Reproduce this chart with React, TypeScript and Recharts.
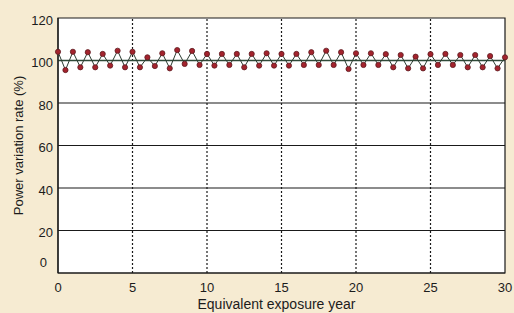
import React from "react";
import {
  LineChart,
  Line,
  XAxis,
  YAxis,
  ReferenceLine,
  ReferenceArea,
} from "recharts";

const years = [
  0, 0.5, 1, 1.5, 2, 2.5, 3, 3.5, 4, 4.5, 5, 5.5, 6, 6.5, 7, 7.5, 8, 8.5, 9, 9.5,
  10, 10.5, 11, 11.5, 12, 12.5, 13, 13.5, 14, 14.5, 15, 15.5, 16, 16.5, 17, 17.5,
  18, 18.5, 19, 19.5, 20, 20.5, 21, 21.5, 22, 22.5, 23, 23.5, 24, 24.5, 25, 25.5,
  26, 26.5, 27, 27.5, 28, 28.5, 29, 29.5, 30,
];

const powerRate = [
  104.1, 95.5, 104.1, 96.8, 103.9, 96.8, 103.1, 97.6, 104.6, 96.8, 104.1, 96.8,
  101.5, 97.4, 103.4, 96.3, 104.9, 98.4, 104.5, 97.9, 103.1, 97.6, 103.1, 97.9,
  103.1, 96.8, 103.1, 97.6, 103.4, 97.6, 103.1, 97.6, 103.1, 97.9, 103.9, 97.9,
  104.6, 97.9, 103.9, 96.0, 103.4, 97.9, 103.4, 97.9, 103.0, 96.8, 102.6, 96.3,
  101.8, 96.3, 103.0, 97.9, 103.1, 97.9, 102.6, 96.8, 102.6, 96.8, 102.1, 96.3,
  101.5,
];

const xTicks = [0, 5, 10, 15, 20, 25, 30];
const yTicks = [0, 20, 40, 60, 80, 100, 120];
const hGrid = [20, 40, 60, 80];
const vGrid = [5, 10, 15, 20, 25];

const xLabel = "Equivalent exposure year";
const yLabel = "Power variation rate (%)";

const data = years.map((y, i) => ({ year: y, rate: powerRate[i] }));

const FONT = "'Liberation Sans', Arial, Helvetica, sans-serif";
const TEXT = "#1c1c1c";

const XTick = (props: any) => {
  const { x, y, payload } = props;
  return (
    <text x={x} y={y} dy={19} textAnchor="middle" fontSize={13} fill={TEXT} fontFamily={FONT}>
      {payload.value}
    </text>
  );
};

const YTick = (props: any) => {
  const { x, y, payload } = props;
  const isZero = payload.value === 0;
  return (
    <text
      x={isZero ? x - 6 : x}
      y={y}
      dy={isZero ? -6 : 6.5}
      textAnchor="end"
      fontSize={13}
      fill={TEXT}
      fontFamily={FONT}
    >
      {payload.value}
    </text>
  );
};

const YLabel = (props: any) => {
  const vb = props.viewBox || { x: 0, y: 18, width: 58, height: 255 };
  const cx = 23;
  const cy = vb.y + vb.height / 2;
  return (
    <text
      x={cx}
      y={cy}
      transform={`rotate(-90, ${cx}, ${cy})`}
      textAnchor="middle"
      fontSize={13}
      fill={TEXT}
      fontFamily={FONT}
    >
      {yLabel}
    </text>
  );
};

const XLabel = (props: any) => {
  const vb = props.viewBox || { x: 58, y: 273, width: 447, height: 40 };
  return (
    <text
      x={vb.x + vb.width / 2 - 5}
      y={309}
      textAnchor="middle"
      fontSize={14}
      fill={TEXT}
      fontFamily={FONT}
    >
      {xLabel}
    </text>
  );
};

export default function App() {
  return (
    <div
      style={{
        position: "fixed",
        left: 0,
        top: 0,
        width: 514,
        height: 313,
        background: "#f6ebd2",
      }}
    >
      <LineChart
        width={514}
        height={313}
        data={data}
        margin={{ top: 18, right: 9, left: 0, bottom: 0 }}
      >
        <ReferenceArea
          x1={0}
          x2={30}
          y1={0}
          y2={120}
          fill="#ffffff"
          fillOpacity={1}
          stroke="#1a1a1a"
          strokeWidth={1.2}
          ifOverflow="visible"
        />
        {hGrid.map((v) => (
          <ReferenceLine key={"h" + v} y={v} stroke="#1a1a1a" strokeWidth={1.1} />
        ))}
        {vGrid.map((v) => (
          <ReferenceLine
            key={"v" + v}
            x={v}
            stroke="#1a1a1a"
            strokeWidth={1.2}
            strokeDasharray="2 2"
          />
        ))}
        <ReferenceLine y={100} stroke="#2f4a38" strokeWidth={1.6} />
        <XAxis
          dataKey="year"
          type="number"
          domain={[0, 30]}
          ticks={xTicks}
          tick={<XTick />}
          tickLine={false}
          tickSize={0}
          tickMargin={0}
          axisLine={{ stroke: "#1a1a1a", strokeWidth: 1.2 }}
          height={40}
          interval={0}
          label={<XLabel />}
        />
        <YAxis
          type="number"
          domain={[0, 120]}
          ticks={yTicks}
          tick={<YTick />}
          tickLine={false}
          tickSize={0}
          tickMargin={5}
          axisLine={{ stroke: "#1a1a1a", strokeWidth: 1.2 }}
          width={58}
          interval={0}
          label={<YLabel />}
        />
        <Line
          type="linear"
          dataKey="rate"
          stroke="#2b3b30"
          strokeWidth={1}
          dot={{ r: 2.6, fill: "#a3232d", stroke: "#5e1a1f", strokeWidth: 0.8 }}
          isAnimationActive={false}
        />
      </LineChart>
    </div>
  );
}
